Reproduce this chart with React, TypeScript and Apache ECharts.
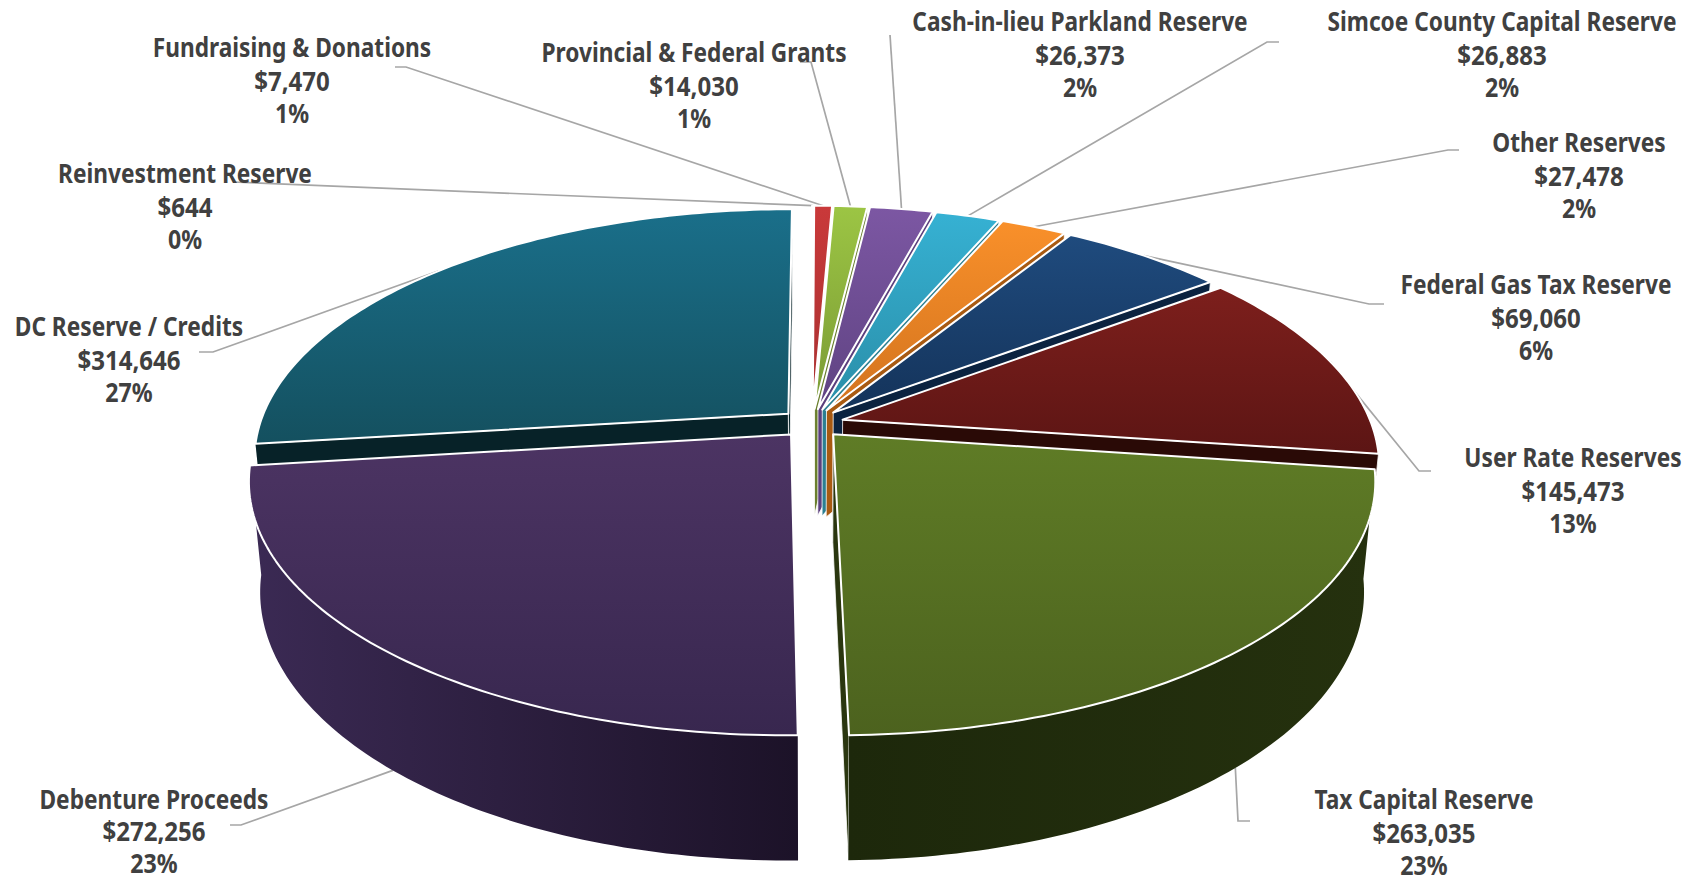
import React, { useEffect, useRef } from "react";
import * as echarts from "echarts";

// Reserve and funding sources, clockwise from twelve o'clock.
const names = [
  "Reinvestment Reserve",
  "Fundraising & Donations",
  "Provincial & Federal Grants",
  "Cash-in-lieu Parkland Reserve",
  "Simcoe County Capital Reserve",
  "Other Reserves",
  "Federal Gas Tax Reserve",
  "User Rate Reserves",
  "Tax Capital Reserve",
  "Debenture Proceeds",
  "DC Reserve / Credits",
];
const amounts = [644, 7470, 14030, 26373, 26883, 27478, 69060, 145473, 263035, 272256, 314646];
const percentLabels = ["0%", "1%", "1%", "2%", "2%", "2%", "6%", "13%", "23%", "23%", "27%"];

const topColors = [
  ["#4f81bd", "#3f6797"],
  ["#c9393a", "#a83030"],
  ["#9cc544", "#7a9a34"],
  ["#7c57a3", "#5f4382"],
  ["#36b1d3", "#2a8ea8"],
  ["#f9902a", "#d2731e"],
  ["#1f4b7e", "#14335a"],
  ["#7d1f1c", "#5c1514"],
  ["#5f7c26", "#4c621e"],
  ["#4c3463", "#38274f"],
  ["#1a6f8a", "#14505f"],
];
const cutColors = ["#2f4c70", "#7a2020", "#6a7f2d", "#5b3f7d", "#2b7f92", "#a85a12", "#0b2340", "#2a0a06", "#2a360f", "#2c1f3d", "#072228"];
const rimColors = [
  ["#2f4c70", "#2f4c70"],
  ["#7a2020", "#7a2020"],
  ["#617a2a", "#617a2a"],
  ["#533a72", "#533a72"],
  ["#1f7285", "#1f7285"],
  ["#9c5515", "#9c5515"],
  ["#0b2340", "#0b2340"],
  ["#2a0a06", "#2a0a06"],
  ["#1d280b", "#25310e"],
  ["#3b2a54", "#1c1228"],
  ["#072228", "#072228"],
];

// Label block centre x, first line y, line gap, and leader start / elbow points.
const labelLayout: { x: number; y: number; gap?: number; leader: number[][]; base?: boolean }[] = [
  { x: 185, y: 173, leader: [[233, 182]] },
  { x: 292, y: 47, leader: [[395, 67], [406, 67]] },
  { x: 694, y: 52, leader: [[800, 62], [811, 62]] },
  { x: 1080, y: 21, leader: [[890, 35]] },
  { x: 1502, y: 21, leader: [[1279, 42], [1267, 42]] },
  { x: 1579, y: 142, leader: [[1459, 150], [1448, 150]] },
  { x: 1536, y: 284, leader: [[1384, 304], [1369, 304]] },
  { x: 1573, y: 457, leader: [[1431, 471], [1419, 471]] },
  { x: 1424, y: 799, leader: [[1250, 821], [1238, 821]], base: true },
  { x: 154, y: 799, gap: 32, leader: [[230, 825], [241, 825]], base: true },
  { x: 129, y: 326, leader: [[199, 352], [213, 352]] },
];

// Perspective model of the tilted disc.
const CX = 812;
const CY = 423.3;
const RX = 528.6;
const RY = 243.6;
const DEPTH = 107.2;
const PERSPECTIVE = 0.176;
const BASE_SHRINK = 0.98;
const EXPLODE = 0.06;
const LINE_GAP = 33.2;
const LINE_SCALE = [0.873, 0.925, 0.89];

const total = amounts.reduce((a, b) => a + b, 0);
const slices = (() => {
  let acc = 0;
  return amounts.map((v, i) => {
    const start = (acc / total) * 360;
    acc += v;
    const end = (acc / total) * 360;
    return { i, start, end, mid: (start + end) / 2 };
  });
})();

const rad = (d: number) => (d * Math.PI) / 180;

function project(X: number, Y: number, base: number) {
  const w = 1 / (1 - PERSPECTIVE * Y);
  const k = 1 - (1 - BASE_SHRINK) * base;
  return [CX + k * RX * X * w, CY + k * RY * Y * w + base * DEPTH * w];
}
function rimPoint(angle: number, mid: number, base: number, r = 1) {
  const X = r * Math.sin(rad(angle)) + EXPLODE * Math.sin(rad(mid));
  const Y = -r * Math.cos(rad(angle)) - EXPLODE * Math.cos(rad(mid));
  return project(X, Y, base);
}
function arc(a: number, b: number, mid: number, base: number) {
  const n = Math.max(2, Math.ceil(Math.abs(b - a)));
  const pts: number[][] = [];
  for (let j = 0; j <= n; j++) pts.push(rimPoint(a + ((b - a) * j) / n, mid, base));
  return pts;
}
function cutWall(angle: number, mid: number, rimDepth = 1) {
  return [rimPoint(0, mid, 0, 0), rimPoint(angle, mid, 0), rimPoint(angle, mid, rimDepth), rimPoint(0, mid, rimDepth, 0)];
}
const vertical = (c: string[]) => new echarts.graphic.LinearGradient(0, 0, 0, 1, [{ offset: 0, color: c[0] }, { offset: 1, color: c[1] }]);
const horizontal = (c: string[]) => new echarts.graphic.LinearGradient(0, 0, 1, 0, [{ offset: 0, color: c[0] }, { offset: 1, color: c[1] }]);

// Back slices are painted first so nearer ones overlap them.
const drawOrder = [...slices].sort((a, b) => -Math.cos(rad(a.mid)) - -Math.cos(rad(b.mid)));

function renderSlice(params: any) {
  const s = drawOrder[params.dataIndex];
  const children: any[] = [];
  const cut = cutColors[s.i];
  const wallStyle = { fill: cut, stroke: "#ffffff", lineWidth: 0.8 };
  if (-Math.sin(rad(s.start)) > 0) {
    children.push({ type: "polygon", shape: { points: cutWall(s.start, s.mid) }, style: wallStyle });
  }
  // The two hairline slices at twelve o'clock show no wall of their own.
  if (Math.sin(rad(s.end)) > -1e-6 && s.i > 1) {
    // A slice that only just passes three o'clock keeps its wall tucked under its neighbour.
    const tucked = s.mid < 90 && s.end > 90;
    children.push({ type: "polygon", shape: { points: cutWall(s.end, s.mid, tucked ? 0.2 : 1) }, style: wallStyle });
  }
  const from = Math.max(s.start, 85);
  const to = Math.min(s.end, 275);
  if (to > from && s.mid > 90) {
    const pts = [...arc(from, to, s.mid, 0), ...arc(to, from, s.mid, 1)];
    children.push({ type: "polygon", shape: { points: pts }, style: { fill: horizontal(rimColors[s.i]) } });
  }
  const top = [rimPoint(0, s.mid, 0, 0), ...arc(s.start, s.end, s.mid, 0)];
  children.push({
    type: "polygon",
    shape: { points: top },
    style: { fill: vertical(topColors[s.i]), stroke: "#ffffff", lineWidth: 2, lineJoin: "round" },
  });
  return { type: "group", children };
}

function renderLabel(params: any) {
  const s = slices[params.dataIndex];
  const layout = labelLayout[s.i];
  const anchor = rimPoint(s.mid, s.mid, layout.base ? 1 : 0);
  const lines = [names[s.i], "$" + amounts[s.i].toLocaleString("en-US"), percentLabels[s.i]];
  return {
    type: "group",
    children: [
      {
        type: "polyline",
        shape: { points: [...layout.leader, anchor] },
        style: { stroke: "#a6a6a6", lineWidth: 1.7, fill: "none" },
      },
      ...lines.map((text, k) => ({
        type: "text",
        x: layout.x,
        y: layout.y + k * (layout.gap ?? LINE_GAP),
        scaleX: LINE_SCALE[k],
        style: {
          text,
          x: 0,
          y: 0,
          textAlign: "center",
          textVerticalAlign: "middle",
          fill: "#404040",
          font: 'bold 26px "Noto Sans"',
        },
      })),
    ],
  };
}

export default function App() {
  const ref = useRef<HTMLDivElement>(null);
  useEffect(() => {
    document.body.style.margin = "0";
    const chart = echarts.init(ref.current!, undefined, { renderer: "svg" });
    chart.setOption({
      animation: false,
      backgroundColor: "#ffffff",
      series: [
        {
          type: "custom",
          coordinateSystem: "none",
          silent: true,
          z: 1,
          data: amounts.map((v) => [v]),
          renderItem: renderLabel,
        },
        {
          type: "custom",
          coordinateSystem: "none",
          silent: true,
          z: 2,
          data: drawOrder.map((s) => [amounts[s.i]]),
          renderItem: renderSlice,
        },
      ],
    });
    return () => chart.dispose();
  }, []);
  return <div ref={ref} style={{ width: 1702, height: 882 }} />;
}
